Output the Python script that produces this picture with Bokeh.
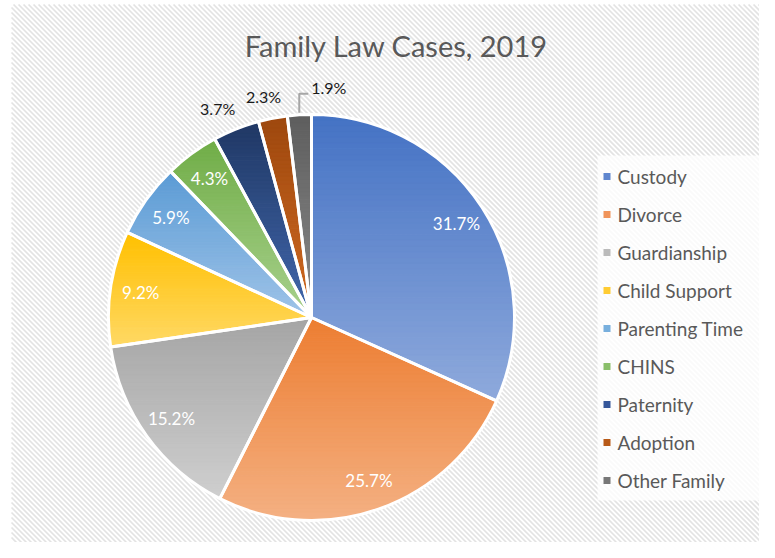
import math
from bokeh.plotting import figure
from bokeh.models import Range1d
from bokeh.core.properties import value
from bokeh.embed import file_html
from bokeh.resources import INLINE

# ---------------- data ----------------
categories = ["Custody", "Divorce", "Guardianship", "Child Support", "Parenting Time",
              "CHINS", "Paternity", "Adoption", "Other Family"]
shares = [31.7, 25.7, 15.2, 9.2, 5.9, 4.3, 3.7, 2.3, 1.9]
title_text = "Family Law Cases, 2019"

colors_top = ["#4472C4", "#ED7D31", "#A5A5A5", "#FFC000", "#5B9BD5",
              "#70AD47", "#203864", "#9E480E", "#5E5E5E"]
colors_bottom = ["#8FAADC", "#F4B183", "#CFCFCF", "#FFD966", "#A0C4E8",
                 "#A9D18E", "#4268AE", "#D06A22", "#8A8A8A"]
colors_legend = ["#5F86CE", "#F0945A", "#BBBBBB", "#FFCC33", "#78AFDD",
                 "#8ABF6A", "#35579A", "#B85A18", "#777777"]

# ---------------- layout (1 data unit = 1 px) ----------------
W, H = 759, 542
CX, CY, R = 311, 225, 203
FONT = "Lato"

p = figure(width=W, height=H, output_backend="svg", toolbar_location=None,
           x_range=Range1d(0, W), y_range=Range1d(0, H), min_border=0)
p.axis.visible = False
p.grid.visible = False
p.outline_line_color = None
p.background_fill_color = "white"
p.border_fill_color = "white"

# hatched chart background (diagonal "\" stripes)
LEFT, TOP = 11, 538
hx0, hy0, hx1, hy1 = [], [], [], []
c = LEFT - TOP
while c < W + 5:
    x_start, y_start = c, TOP
    if x_start < LEFT:
        y_start = TOP - (LEFT - x_start)
        x_start = LEFT
    x_end, y_end = c + TOP, 0
    if y_start > 0:
        hx0.append(x_start)
        hy0.append(y_start)
        hx1.append(x_end)
        hy1.append(y_end)
    c += 5
p.segment(x0=hx0, y0=hy0, x1=hx1, y1=hy1, line_color="#e3e3e3", line_width=1.7)

# legend panel
p.quad(left=[597], right=[760], bottom=[42], top=[387], fill_color="white",
       fill_alpha=0.8, line_color=None)


def hex2rgb(h):
    h = h.lstrip("#")
    return tuple(int(h[i:i + 2], 16) for i in (0, 2, 4))


def mix(c1, c2, t):
    a, b = hex2rgb(c1), hex2rgb(c2)
    return "#%02x%02x%02x" % tuple(int(round(a[k] + (b[k] - a[k]) * t)) for k in range(3))


def polar(a, r):
    return CX + r * math.sin(a), CY + r * math.cos(a)


def clip(poly, y0, y1):
    def clip_half(pts, keep, yb):
        out = []
        n = len(pts)
        for i in range(n):
            cur, prv = pts[i], pts[i - 1]
            ic, ip = keep(cur[1]), keep(prv[1])
            if ic:
                if not ip:
                    t = (yb - prv[1]) / (cur[1] - prv[1])
                    out.append((prv[0] + t * (cur[0] - prv[0]), yb))
                out.append(cur)
            elif ip:
                t = (yb - prv[1]) / (cur[1] - prv[1])
                out.append((prv[0] + t * (cur[0] - prv[0]), yb))
        return out
    pts = clip_half(poly, lambda y: y >= y0, y0)
    if not pts:
        return []
    return clip_half(pts, lambda y: y <= y1, y1)


total = sum(shares)
starts, ends = [], []
acc = 0.0
for v in shares:
    starts.append(acc / total * 2 * math.pi)
    acc += v
    ends.append(acc / total * 2 * math.pi)

# gradient slices (vertical gradient per slice)
xs, ys, cols = [], [], []
NB = 50
for i in range(len(shares)):
    a0, a1 = starts[i], ends[i]
    n = max(4, int((a1 - a0) / (2 * math.pi) * 400))
    poly = [(CX, CY)] + [polar(a0 + (a1 - a0) * k / n, R) for k in range(n + 1)]
    ymin = min(q[1] for q in poly)
    ymax = max(q[1] for q in poly)
    step = (ymax - ymin) / NB
    for b in range(NB):
        yb0 = ymin + b * step
        yb1 = yb0 + step + 0.6
        piece = clip(poly, yb0, yb1)
        if len(piece) < 3:
            continue
        t = 1 - (yb0 + step / 2 - ymin) / (ymax - ymin)
        xs.append([q[0] for q in piece])
        ys.append([q[1] for q in piece])
        cols.append(mix(colors_top[i], colors_bottom[i], t))
p.patches(xs=xs, ys=ys, fill_color=cols, line_color=cols, line_width=0.6)

# white separators / outline
p.wedge(x=CX, y=CY, radius=R,
        start_angle=[math.pi / 2 - s for s in starts],
        end_angle=[math.pi / 2 - e for e in ends],
        direction="clock", fill_alpha=0, line_color="white", line_width=3)

# percentage labels
labels = [f"{v:.1f}%" for v in shares]
mids = [(s + e) / 2 for s, e in zip(starts, ends)]
n_inside = 6
ix, iy = [], []
for i in range(n_inside):
    x, y = polar(mids[i], R * 0.85)
    ix.append(x)
    iy.append(y)
p.text(x=ix, y=iy, text=labels[:n_inside], text_color="white", text_font=value(FONT),
       text_font_size="17px", text_align="center", text_baseline="middle")

# outside labels (Paternity, Adoption)
nudges = [-14, -7]
ox, oy = [], []
for k, i in enumerate(range(6, 8)):
    x, y = polar(mids[i], R + 12)
    ox.append(x + nudges[k])
    oy.append(y)
p.text(x=ox, y=oy, text=labels[6:8], text_color="#1a1a1a", text_font=value(FONT),
       text_font_size="16px", text_align="center", text_baseline="bottom")

# leader line label (Other Family)
sx, sy = polar(mids[8], R + 2)
ex, ey = sx, sy + 19
p.line(x=[sx, ex, ex + 9], y=[sy, ey, ey], line_color="#A6A6A6", line_width=2)
p.text(x=[ex + 12], y=[ey + 6], text=[labels[8]], text_color="#1a1a1a", text_font=value(FONT),
       text_font_size="16px", text_align="left", text_baseline="middle")

# title
p.text(x=[396], y=[497], text=[title_text], text_color="#595959", text_font=value(FONT),
       text_font_size="29px", text_align="center", text_baseline="alphabetic")

# legend
ly = [366 - 38 * i for i in range(len(categories))]
p.rect(x=[606.5] * len(categories), y=ly, width=7, height=7, fill_color=colors_legend,
       line_color=None)
p.text(x=[617] * len(categories), y=ly, text=categories, text_color="#595959",
       text_font=value(FONT), text_font_size="19px", text_align="left", text_baseline="middle")

open("out.html", "w").write(file_html(p, INLINE))
